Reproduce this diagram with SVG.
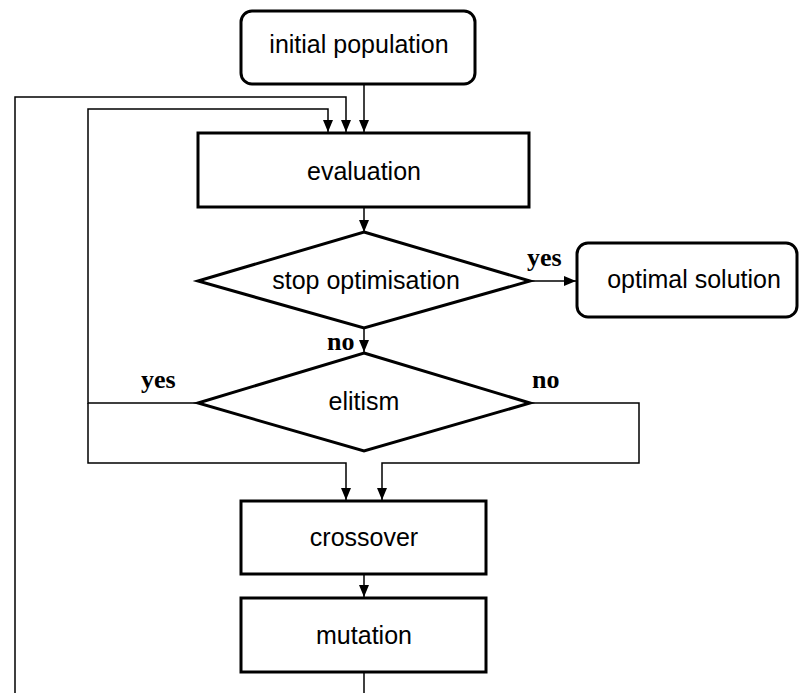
<svg xmlns="http://www.w3.org/2000/svg" width="801" height="693" viewBox="0 0 801 693">
<style>
.node{fill:#fff;stroke:#000;stroke-width:3}
.lbl{font-family:"Liberation Sans",Arial,sans-serif;font-size:25px;fill:#000;text-anchor:middle}
.yn{font-family:"Liberation Serif","Times New Roman",serif;font-size:26px;font-weight:bold;fill:#000}
.conn{fill:none;stroke:#000;stroke-width:1.5}
</style>
<defs>
<marker id="arr" markerUnits="userSpaceOnUse" markerWidth="12" markerHeight="10" refX="12" refY="5" orient="auto">
<path d="M0,0 L12,5 L0,10 Z" fill="#000"/>
</marker>
</defs>
<rect width="801" height="693" fill="#fff"/>
<g id="connectors">
<path class="conn" d="M364,84 V132" marker-end="url(#arr)"/>
<path class="conn" d="M15,693 V97 H346 V132" marker-end="url(#arr)"/>
<path class="conn" d="M198,403 H88 V109 H328 V132" marker-end="url(#arr)"/>
<path class="conn" d="M364,207 V232" marker-end="url(#arr)"/>
<path class="conn" d="M530,281 H576" marker-end="url(#arr)"/>
<path class="conn" d="M364,328 V352" marker-end="url(#arr)"/>
<path class="conn" d="M88,403 V463 H346 V500" marker-end="url(#arr)"/>
<path class="conn" d="M530,403 H639 V463 H382 V500" marker-end="url(#arr)"/>
<path class="conn" d="M364,574 V597" marker-end="url(#arr)"/>
<path class="conn" d="M364,672 V693"/>
<text class="yn" x="527" y="266">yes</text>
<text class="yn" x="327" y="350">no</text>
<text class="yn" x="141" y="388">yes</text>
<text class="yn" x="532" y="388">no</text>
</g>
<g id="initial">
<rect class="node" x="241" y="11" width="234" height="73" rx="11"/>
<text class="lbl" x="359" y="53">initial population</text>
</g>
<g id="evaluation">
<rect class="node" x="198" y="133" width="331" height="74"/>
<text class="lbl" x="364" y="180">evaluation</text>
</g>
<g id="stop">
<polygon class="node" points="364,232 530,281 364,328 198,281"/>
<text class="lbl" x="366" y="289">stop optimisation</text>
</g>
<g id="optimal">
<rect class="node" x="577" y="243" width="220" height="74" rx="11"/>
<text class="lbl" x="694" y="288">optimal solution</text>
</g>
<g id="elitism">
<polygon class="node" points="364,353 530,403 364,451 198,403"/>
<text class="lbl" x="364" y="410">elitism</text>
</g>
<g id="crossover">
<rect class="node" x="241" y="501" width="245" height="73"/>
<text class="lbl" x="364" y="546">crossover</text>
</g>
<g id="mutation">
<rect class="node" x="241" y="598" width="245" height="74"/>
<text class="lbl" x="364" y="644">mutation</text>
</g>
</svg>
